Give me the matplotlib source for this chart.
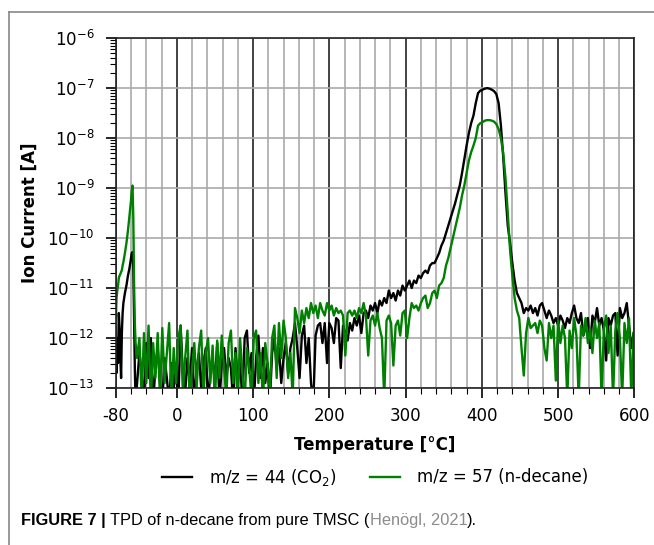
import numpy as np
import matplotlib
matplotlib.use("Agg")
import matplotlib.pyplot as plt
from matplotlib.lines import Line2D
from matplotlib.ticker import MultipleLocator, FixedLocator, LogLocator, NullFormatter

# Temperatures of the low-temperature desorption peak [°C]
temps_rise = [-80, -79, -78, -77, -76, -75, -74, -73, -72, -71, -70,
              -68, -66, -64, -62, -60, -59, -58, -57, -56, -55, -54]
# log10 of ion current [A] around that peak
co2_rise = [-12.3, -12.7, -12.0, -12.5, -11.5, -11.8, -12.4, -12.8, -11.9, -11.5, -11.3,
            -11.1, -10.95, -10.75, -10.6, -10.4, -10.3, -10.28, -10.6, -11.6, -12.6, -13.3]
decane_rise = [-11.7, -11.2, -11.05, -10.95, -10.8, -10.75, -10.72, -10.68, -10.64, -10.55, -10.48,
               -10.3, -10.1, -9.85, -9.55, -9.25, -9.05, -8.95, -9.6, -10.9, -11.7, -12.1]

# rest of the ramp, recorded every 3 °C from -52 °C to 599 °C
temps_main = np.arange(-52, 600, 3)

# m/z = 44 (CO2), log10 of ion current, rows of ten starting at -52 °C
co2_main = [
    -12.9, -12.3, -12.7, -13.3, -12.1, -12.8, -12.0, -13.3, -12.6, -12.2,
    -12.9, -13.3, -12.4, -12.8, -13.3, -12.5, -13.0, -12.6, -13.3, -11.75,
    -12.7, -13.1, -12.4, -12.9, -12.2, -13.3, -12.6, -12.3, -13.0, -12.5,
    -12.2, -13.3, -12.7, -12.4, -12.9, -12.1, -13.3, -12.5, -12.2, -12.8,
    -12.4, -12.6, -13.3, -12.2, -12.9, -12.4, -13.3, -12.0, -11.85, -12.7,
    -12.3, -13.3, -12.4, -11.95, -12.8, -12.2, -12.9, -12.5, -13.3, -12.3,
    -12.0, -12.6, -12.2, -12.9, -12.4, -12.1, -12.7, -12.2, -12.0, -11.7,
    -12.2, -12.8, -11.95, -11.75, -12.5, -12.0, -12.9, -13.3, -11.95, -11.75,
    -11.7, -12.1, -11.7, -12.5, -11.7, -11.8, -12.1, -11.6, -11.65, -12.6,
    -11.75, -11.9, -12.05, -11.7, -11.85, -11.6, -11.75, -11.55, -11.9, -11.5,
    -11.45, -11.6, -11.35, -11.45, -11.3, -11.5, -11.25, -11.35, -11.2, -11.3,
    -11.05, -11.2, -11.1, -11.25, -11.05, -11.15, -10.95, -11.05, -10.95, -10.85,
    -11.0, -10.85, -10.9, -10.75, -10.8, -10.7, -10.65, -10.7, -10.55, -10.5,
    -10.5, -10.4, -10.3, -10.15, -10.05, -9.9, -9.75, -9.6, -9.45, -9.3,
    -9.12, -8.95, -8.7, -8.42, -8.15, -7.9, -7.7, -7.55, -7.3, -7.1,
    -7.05, -7.03, -7.01, -7.0, -7.01, -7.03, -7.06, -7.12, -7.3, -7.75,
    -8.37, -9.1, -9.75, -10.1, -10.5, -10.85, -11.1, -11.2, -11.3, -11.5,
    -11.4, -11.45, -11.35, -11.5, -11.4, -11.55, -11.35, -11.3, -11.45, -11.6,
    -11.45, -11.55, -11.7, -11.6, -11.75, -11.55, -11.65, -11.8, -11.6, -11.7,
    -11.5, -11.35, -11.6, -11.7, -11.5, -11.95, -11.8, -11.6, -12.2, -11.55,
    -11.7, -11.4, -11.75, -11.6, -11.85, -12.45, -11.6, -11.75, -11.55, -11.5,
    -12.35, -11.4, -11.6, -11.5, -11.3, -11.75, -12.2, -11.9,
]

# m/z = 57 (n-decane), log10 of ion current, same temperatures
decane_main = [
    -12.4, -12.0, -13.2, -11.9, -12.9, -11.75, -13.3, -12.1, -12.8, -11.9,
    -13.2, -11.8, -12.9, -12.3, -11.7, -13.3, -12.2, -12.9, -12.0, -11.75,
    -13.1, -12.4, -11.85, -13.3, -12.6, -12.1, -13.0, -12.2, -11.85, -13.2,
    -12.3, -12.0, -12.9, -12.15, -13.3, -12.05, -12.8, -11.95, -12.6, -13.2,
    -12.1, -11.85, -12.9, -12.3, -13.3, -12.0, -12.7, -13.3, -12.2, -12.6,
    -13.2, -12.0, -11.85, -12.9, -12.3, -13.3, -12.1, -12.5, -13.1, -12.0,
    -11.75, -12.8, -11.7, -12.4, -11.65, -12.0, -12.8, -12.3, -13.2, -11.4,
    -11.6, -11.9, -11.45, -11.7, -11.4, -11.6, -11.3, -11.5, -11.35, -11.6,
    -11.3, -11.45, -11.55, -11.3, -11.45, -11.35, -11.55, -11.4, -11.5, -11.45,
    -11.55, -12.35, -11.5, -11.45, -11.55, -11.45, -11.6, -11.4, -11.5, -11.3,
    -11.55, -12.35, -11.65, -11.55, -11.75, -11.5, -11.8, -12.0, -13.2, -11.65,
    -11.55, -11.7, -12.55, -11.75, -11.65, -11.95, -11.5, -11.45, -12.0, -11.6,
    -11.3, -11.4, -11.35, -11.45, -11.3, -11.2, -11.15, -11.4, -11.3, -11.1,
    -11.05, -11.2, -10.95, -10.9, -10.8, -10.55, -10.4, -10.2, -10.0, -9.8,
    -9.6, -9.4, -9.15, -8.95, -8.7, -8.45, -8.28, -8.15, -8.0, -7.75,
    -7.7, -7.68, -7.65, -7.64, -7.64, -7.65, -7.67, -7.72, -7.82, -8.0,
    -8.3, -8.8, -9.5, -10.24, -10.75, -11.2, -11.45, -11.6, -12.2, -12.75,
    -11.9, -11.6, -11.8, -11.75, -11.7, -11.9, -11.65, -11.75, -12.2, -12.45,
    -11.7, -12.0, -11.75, -12.85, -11.65, -12.1, -11.75, -12.0, -13.2, -11.85,
    -12.2, -11.6, -11.95, -13.2, -11.75, -11.95, -11.6, -12.1, -11.8, -12.3,
    -11.65, -12.0, -11.7, -13.2, -11.8, -11.55, -12.3, -11.75, -13.2, -11.85,
    -11.5, -12.0, -13.2, -11.7, -12.1, -11.6, -13.2, -11.9,
]

temps = np.concatenate([temps_rise, temps_main])
co2 = 10.0 ** np.array(co2_rise + co2_main)
decane = 10.0 ** np.array(decane_rise + decane_main)

x_ticks = [-80, 0, 100, 200, 300, 400, 500, 600]
legend_labels = ["m/z = 44 (CO$_2$)", "m/z = 57 (n-decane)"]

fig = plt.figure(figsize=(6.54, 5.45), dpi=100)
ax = fig.add_axes([0.177, 0.288, 0.793, 0.642])

ax.plot(temps, co2, color="black", lw=1.7, label=legend_labels[0])
ax.plot(temps, decane, color="green", lw=1.7, label=legend_labels[1])

ax.set_yscale("log")
ax.set_ylim(1e-13, 1e-6)
ax.set_xlim(-80, 600)

ax.xaxis.set_major_locator(FixedLocator(x_ticks))
ax.xaxis.set_minor_locator(MultipleLocator(20))
ax.yaxis.set_major_locator(LogLocator(base=10, numticks=20))
ax.yaxis.set_minor_locator(LogLocator(base=10, subs=np.arange(2, 10), numticks=20))
ax.yaxis.set_minor_formatter(NullFormatter())

# grid: dark lines every 100 °C, grey lines every 20 °C and every decade
ax.grid(True, which="minor", axis="x", color="#aaaaaa", lw=1.2)
ax.grid(True, which="major", axis="x", color="#222222", lw=1.2)
ax.grid(True, which="major", axis="y", color="#aaaaaa", lw=1.2)
ax.set_axisbelow(True)

ax.tick_params(which="major", length=7.5, width=1.2, labelsize=12, colors="black")
ax.tick_params(axis="x", which="major", pad=6.5)
ax.tick_params(axis="y", which="major", pad=8)
ax.tick_params(which="minor", length=4, width=0.8)
for sp in ax.spines.values():
    sp.set_linewidth(1.2)
    sp.set_color("#222222")

ax.set_xticklabels([str(t) for t in x_ticks])
ax.set_xlabel("Temperature [°C]", fontsize=12, fontweight="bold")
ax.set_ylabel("Ion Current [A]", fontsize=12, fontweight="bold")
ax.xaxis.set_label_coords(0.5, -0.137)
ax.yaxis.set_label_coords(-0.148, 0.5)

fig.legend(loc="center", bbox_to_anchor=(375 / 654, 1 - 477 / 545), ncol=2,
           frameon=False, fontsize=12, handlelength=1.8, handletextpad=1.0,
           columnspacing=2.0)

# outer frame of the figure panel
fig.add_artist(Line2D([9 / 654, 1.0], [1 - 12 / 545] * 2, color="#888888", lw=1.2))
fig.add_artist(Line2D([9 / 654] * 2, [0.0, 1 - 12 / 545], color="#888888", lw=1.2))

# caption, built from consecutive pieces
cap_y = 1 - 525 / 545
pieces = [("FIGURE 7 | ", "bold", "black"),
          ("TPD of n-decane from pure TMSC (", "normal", "black"),
          ("Henögl, 2021", "normal", "#8c8c8c"),
          (").", "normal", "black")]
fig.canvas.draw()
renderer = fig.canvas.get_renderer()
x_px = 21
for txt, weight, col in pieces:
    t = fig.text(x_px / 654, cap_y, txt, fontsize=11.8, fontweight=weight, color=col,
                 family="Liberation Sans", va="baseline", ha="left")
    bb = t.get_window_extent(renderer=renderer)
    x_px = bb.x1

fig.savefig("out.png", dpi=100)
